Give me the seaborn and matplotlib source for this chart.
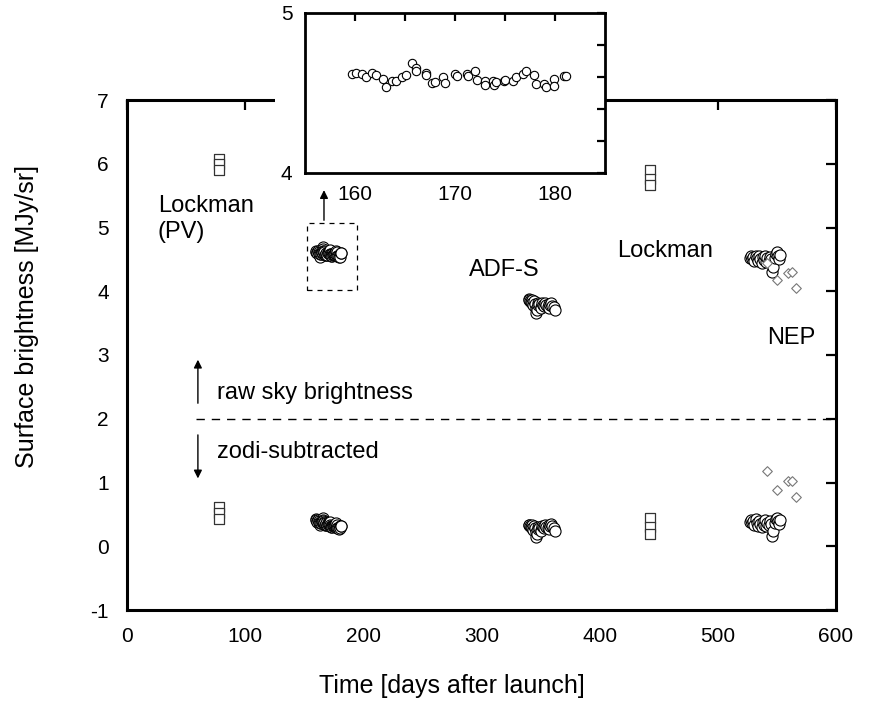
import matplotlib
matplotlib.use("Agg")
import matplotlib.pyplot as plt
import seaborn as sns
import pandas as pd
from matplotlib.patches import Rectangle

sns.set_theme(style="white")
plt.rcParams['font.family'] = ['Liberation Sans', 'DejaVu Sans']
plt.rcParams['axes.unicode_minus'] = False
plt.rcParams['text.color'] = 'black'
plt.rcParams['axes.labelcolor'] = 'black'
plt.rcParams['xtick.color'] = 'black'
plt.rcParams['ytick.color'] = 'black'

# ---- data ----
lockpv_days = [78, 78, 78]
lockpv_raw = [6.08, 6.0, 5.9]
lockpv_zodi = [0.61, 0.52, 0.42]

lock_days = [443, 443, 443]
lock_raw = [5.9, 5.76, 5.66]
lock_zodi = [0.45, 0.30, 0.20]

ltm_days = [159.7, 160.1, 160.7, 161.1, 161.7, 162.1, 162.8, 163.1, 163.7, 164.1,
            164.7, 165.1, 165.7, 166.1, 166.1, 167.1, 167.1, 167.7, 168.0, 168.8,
            169.0, 170.0, 170.2, 171.2, 171.3, 172.0, 172.2, 173.0, 173.0, 173.8,
            173.9, 174.1, 174.9, 175.0, 175.8, 176.1, 176.8, 177.1, 177.9, 178.1,
            178.9, 179.1, 179.9, 179.9, 180.9, 181.1]
ltm_raw = [4.621, 4.625, 4.621, 4.598, 4.625, 4.610, 4.590, 4.538, 4.577, 4.577,
           4.598, 4.615, 4.688, 4.656, 4.635, 4.625, 4.610, 4.563, 4.569, 4.600,
           4.563, 4.621, 4.604, 4.621, 4.604, 4.640, 4.583, 4.577, 4.548, 4.577,
           4.548, 4.571, 4.573, 4.583, 4.573, 4.600, 4.619, 4.635, 4.610, 4.556,
           4.556, 4.535, 4.590, 4.542, 4.604, 4.604]
ltm_zodi = [0.42, 0.41, 0.40, 0.38, 0.41, 0.39, 0.37, 0.33, 0.36, 0.36,
            0.38, 0.40, 0.44, 0.41, 0.39, 0.38, 0.37, 0.33, 0.34, 0.36,
            0.33, 0.37, 0.35, 0.37, 0.35, 0.38, 0.33, 0.32, 0.30, 0.32,
            0.30, 0.31, 0.31, 0.32, 0.31, 0.33, 0.34, 0.36, 0.34, 0.29,
            0.29, 0.27, 0.32, 0.28, 0.31, 0.31]

adfs_days = [340, 340.5, 341, 342, 342.5, 343, 344, 344.5, 345, 346, 346.5, 347,
             347.5, 348, 349, 350, 350.5, 351, 352, 353, 354, 355, 356, 357,
             357.5, 358, 359, 360, 361, 362]
adfs_raw = [3.88, 3.86, 3.85, 3.83, 3.86, 3.82, 3.78, 3.84, 3.80, 3.72, 3.66, 3.70,
            3.82, 3.78, 3.80, 3.76, 3.74, 3.81, 3.79, 3.77, 3.82, 3.78, 3.76, 3.80,
            3.74, 3.79, 3.82, 3.77, 3.75, 3.70]
adfs_zodi = [0.34, 0.33, 0.32, 0.30, 0.33, 0.29, 0.26, 0.31, 0.28, 0.22, 0.15, 0.19,
             0.30, 0.27, 0.29, 0.25, 0.24, 0.31, 0.30, 0.28, 0.33, 0.30, 0.28, 0.33,
             0.27, 0.32, 0.35, 0.31, 0.29, 0.24]

nep_days = [527, 528, 529, 530, 531, 532, 533, 534, 535, 536, 537, 538, 539, 540,
            541, 542, 543, 544, 545, 546, 547, 548, 549, 550, 551, 552, 553]
nep_raw = [4.52, 4.55, 4.50, 4.54, 4.48, 4.56, 4.52, 4.47, 4.55, 4.50, 4.45, 4.53,
           4.49, 4.55, 4.46, 4.52, 4.48, 4.54, 4.50, 4.30, 4.38, 4.52, 4.58, 4.62,
           4.55, 4.50, 4.57]
nep_zodi = [0.38, 0.41, 0.36, 0.40, 0.33, 0.42, 0.37, 0.32, 0.40, 0.35, 0.30, 0.38,
            0.34, 0.41, 0.31, 0.37, 0.33, 0.39, 0.35, 0.16, 0.24, 0.37, 0.42, 0.44,
            0.40, 0.35, 0.41]

nepd_days = [542, 550, 559, 563, 566]
nepd_raw = [4.45, 4.17, 4.28, 4.30, 4.05]
nepd_zodi = [1.18, 0.88, 1.02, 1.03, 0.78]

# ---- figure ----
W, H = 870, 705
fig = plt.figure(figsize=(8.7, 7.05), dpi=100)
L, R, T, B = 127, 836, 100, 610
ax = fig.add_axes([L / W, 1 - B / H, (R - L) / W, (B - T) / H])

sq = dict(marker='s', s=55, facecolor='white', edgecolor='#333333', linewidth=0.9)
ci = dict(marker='o', s=64, facecolor='white', edgecolor='black', linewidth=0.8)
di = dict(marker='D', s=24, facecolor='white', edgecolor='#777777', linewidth=0.8)

for dd, r, z, st in [(lockpv_days, lockpv_raw, lockpv_zodi, sq),
                     (lock_days, lock_raw, lock_zodi, sq),
                     (ltm_days, ltm_raw, ltm_zodi, ci),
                     (adfs_days, adfs_raw, adfs_zodi, ci),
                     (nep_days, nep_raw, nep_zodi, ci),
                     (nepd_days, nepd_raw, nepd_zodi, di)]:
    df = pd.DataFrame({'d': dd, 'r': r, 'z': z})
    sns.scatterplot(data=df, x='d', y='r', ax=ax, legend=False, **st)
    sns.scatterplot(data=df, x='d', y='z', ax=ax, legend=False, **st)

ax.set_xlim(0, 600)
ax.set_ylim(-1, 7)
ax.set_xticks([0, 100, 200, 300, 400, 500, 600])
ax.set_yticks(range(-1, 8))
ax.set_xlabel('Time [days after launch]', fontsize=18)
ax.set_ylabel('Surface brightness [MJy/sr]', fontsize=18)
ax.xaxis.set_label_coords((452 - L) / (R - L), -(686 - B) / (B - T), transform=ax.transAxes)
ax.yaxis.set_label_coords(-(L - 27) / (R - L), (B - 316) / (B - T), transform=ax.transAxes)
ax.xaxis.label.set_va('center')
ax.yaxis.label.set_va('center')
ax.tick_params(direction='in', length=7, width=1.6, labelsize=15, pad=12,
               top=True, right=True, colors='black')
ax.tick_params(axis='y', pad=13)
for sp in ax.spines.values():
    sp.set_linewidth(2.2)
    sp.set_color('black')

# dashed divider
ax.plot([58, 598], [2, 2], ls=(0, (6, 5)), color='black', lw=1.0)
ax.annotate('', xy=(60, 2.97), xytext=(60, 2.2),
            arrowprops=dict(arrowstyle='-|>', color='black', lw=1.0,
                            mutation_scale=12))
ax.annotate('', xy=(60, 1.02), xytext=(60, 1.79),
            arrowprops=dict(arrowstyle='-|>', color='black', lw=1.0,
                            mutation_scale=12))
ax.text(76, 2.31, 'raw sky brightness', fontsize=17)
ax.text(76, 1.38, 'zodi-subtracted', fontsize=17)
ax.text(26, 5.24, 'Lockman', fontsize=17)
ax.text(26, 4.83, '(PV)', fontsize=17)
ax.text(415, 4.53, 'Lockman', fontsize=17)
ax.text(289, 4.24, 'ADF-S', fontsize=17)
ax.text(542, 3.18, 'NEP', fontsize=17)

# dashed rectangle and arrow to inset
ax.add_patch(Rectangle((152.3, 4.02), 42.3, 1.05, fill=False,
                       ls=(0, (4, 4)), lw=0.9, edgecolor='black'))
ax.annotate('', xy=(166.7, 5.63), xytext=(166.7, 5.07),
            arrowprops=dict(arrowstyle='-|>', color='black', lw=1.0,
                            mutation_scale=12), annotation_clip=False)

# white patch hiding main top spine behind the inset
fig.patches.append(Rectangle((275 / W, 1 - 112 / H), (605 - 275) / W, 112 / H,
                             transform=fig.transFigure, facecolor='white',
                             edgecolor='none', zorder=1))

# inset
iL, iR, iT, iB = 305, 605, 13, 173
axi = fig.add_axes([iL / W, 1 - iB / H, (iR - iL) / W, (iB - iT) / H])
axi.set_zorder(3)
dfi = pd.DataFrame({'d': ltm_days, 'r': ltm_raw})
sns.scatterplot(data=dfi, x='d', y='r', ax=axi, legend=False, marker='o', s=36,
                facecolor='white', edgecolor='black', linewidth=0.8)
axi.set_xlim(155, 185)
axi.set_ylim(4, 5)
axi.set_xticks([160, 170, 180])
axi.set_xticks([165, 175], minor=True)
axi.set_yticks([4, 5])
axi.set_yticks([4.2, 4.4, 4.6, 4.8], minor=True)
axi.set_xlabel('')
axi.set_ylabel('')
axi.tick_params(which='both', direction='in', length=6, width=1.6, labelsize=15,
                pad=9, top=True, right=True, colors='black')
for sp in axi.spines.values():
    sp.set_linewidth(2.0)
    sp.set_color('black')

fig.savefig('out.png', dpi=100, facecolor='white')
